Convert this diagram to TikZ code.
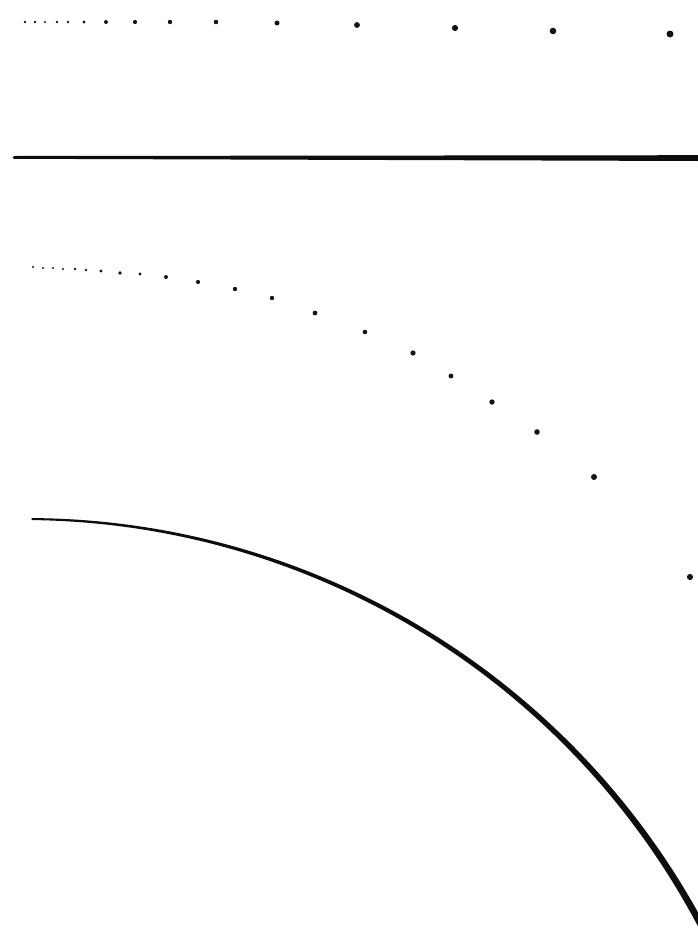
\documentclass[tikz,border=0pt]{standalone}
\begin{document}
\begin{tikzpicture}[x=1pt,y=-1pt,
  dotmark/.style={fill=black!92},
  inkline/.style={fill=black!95}]
\useasboundingbox (0,0) rectangle (698,945);
\clip (0,0) rectangle (698,945);
% top row of dots (uniform motion)
\foreach \px/\py/\r in {25/22/1.3, 35/22/1.3, 45/22/1.2, 57/22/1.3, 68/22/1.4,
  84/22/1.7, 106/22/2.0, 135/22/2.1, 170/22/2.2, 216/22/2.3, 277/23/2.5,
  357/25/2.9, 455/28/3.1, 553/31/3.3, 670/34/3.5}
  \fill[dotmark] (\px,\py) circle (\r);
% straight line (tapered)
\fill[inkline] (14,156.0) -- (698,155.2) -- (698,161.0) -- (14,158.8) -- cycle;
\fill[inkline] (14,157.4) circle (1.4);
% second row of dots (falling)
\foreach \px/\py/\r in {33/267/1.2, 43/268/1.2, 53/268/1.2, 63/269/1.2, 75/269/1.3,
  86/270/1.3, 101/271/1.6, 120/273/1.9, 140/274/1.7, 166/277/2.0, 198/282/2.1,
  235/289/2.2, 272/298/2.2, 315/313/2.4, 365/332/2.3, 413/353/2.6, 451/376/2.4,
  492/402/2.7, 537/432/2.8, 594/477/3.0, 690/577/3.1}
  \fill[dotmark] (\px,\py) circle (\r);
% curved line (tapered circular arc)
\fill[inkline]
  plot[domain=-89.5:-27, samples=90]
    ({25+(766-(1.0+(\x+89.5)/62.5*2.4))*cos(\x)},
     {1285+(766-(1.0+(\x+89.5)/62.5*2.4))*sin(\x)})
  -- plot[domain=-27:-89.5, samples=90]
    ({25+(766+(1.0+(\x+89.5)/62.5*2.4))*cos(\x)},
     {1285+(766+(1.0+(\x+89.5)/62.5*2.4))*sin(\x)})
  -- cycle;
\end{tikzpicture}
\end{document}
